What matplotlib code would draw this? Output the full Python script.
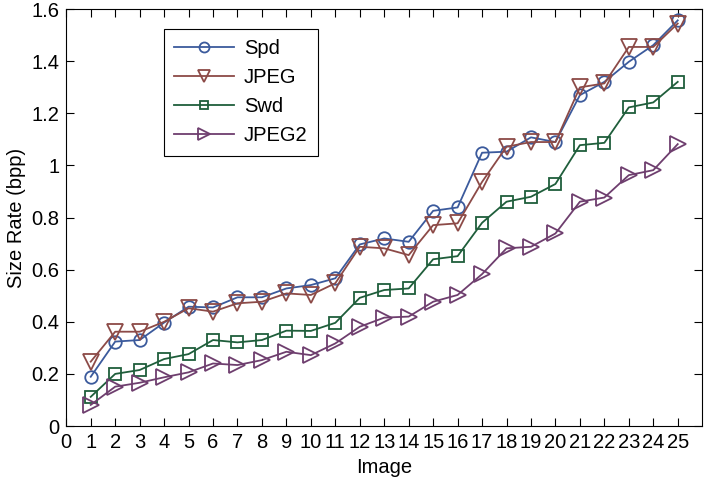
import numpy as np
import matplotlib.pyplot as plt

plt.rcParams['font.family'] = ['Liberation Sans', 'DejaVu Sans']

images = list(range(1, 26))
spd = [0.189, 0.324, 0.330, 0.397, 0.458, 0.455, 0.494, 0.494, 0.528, 0.541, 0.567, 0.697,
       0.720, 0.707, 0.826, 0.839, 1.049, 1.053, 1.108, 1.090, 1.270, 1.321, 1.398, 1.462, 1.557]
jpeg = [0.247, 0.362, 0.362, 0.400, 0.452, 0.439, 0.471, 0.477, 0.509, 0.503, 0.548, 0.688,
        0.682, 0.656, 0.771, 0.778, 0.937, 1.072, 1.090, 1.090, 1.300, 1.315, 1.455, 1.455, 1.545]
swd = [0.112, 0.200, 0.215, 0.257, 0.276, 0.330, 0.321, 0.330, 0.366, 0.365, 0.396, 0.492,
       0.522, 0.528, 0.640, 0.652, 0.780, 0.861, 0.880, 0.929, 1.078, 1.087, 1.223, 1.242, 1.321]
jpeg2 = [0.081, 0.151, 0.166, 0.187, 0.206, 0.240, 0.234, 0.253, 0.285, 0.272, 0.317, 0.381,
         0.416, 0.420, 0.477, 0.503, 0.583, 0.682, 0.688, 0.739, 0.861, 0.877, 0.963, 0.982, 1.082]

fig = plt.figure(figsize=(7.05, 4.83), dpi=100)
ax = fig.add_axes([0.094, 0.118, 0.902, 0.863])

ax.plot(images, spd, '-o', color='#3b5a9c', mfc='none', ms=9, mew=1.3, lw=1.3, label='Spd')
ax.plot(images, jpeg, '-v', color='#8c4a47', mfc='none', ms=11, mew=1.3, lw=1.3, label='JPEG')
ax.plot(images, swd, '-s', color='#1f5e3b', mfc='none', ms=8, mew=1.3, lw=1.3, label='Swd')
ax.plot(images, jpeg2, '->', color='#6e3e6e', mfc='none', ms=11, mew=1.3, lw=1.3, label='JPEG2')

ax.set_xlim(0, 26)
ax.set_ylim(0, 1.6)
ax.set_xticks(range(0, 26))
ax.set_yticks(np.arange(0, 1.61, 0.2))
ax.set_yticklabels(['0', '0.2', '0.4', '0.6', '0.8', '1', '1.2', '1.4', '1.6'])
ax.tick_params(direction='in', length=6, width=0.8, top=True, right=True, labelsize=14.5, pad=5)
ax.set_xlabel('Image', fontsize=14.5, labelpad=4)
ax.set_ylabel('Size Rate (bpp)', fontsize=14.5, labelpad=4)

leg = ax.legend(loc='upper left', bbox_to_anchor=(0.153, 0.952), borderaxespad=0,
                fontsize=14.5, fancybox=False, edgecolor='black', framealpha=1,
                handlelength=3.0, labelspacing=0.5, markerscale=0.8,
                borderpad=0.5, handletextpad=0.5)
leg.get_frame().set_linewidth(0.8)

plt.savefig('out.png', dpi=100)
